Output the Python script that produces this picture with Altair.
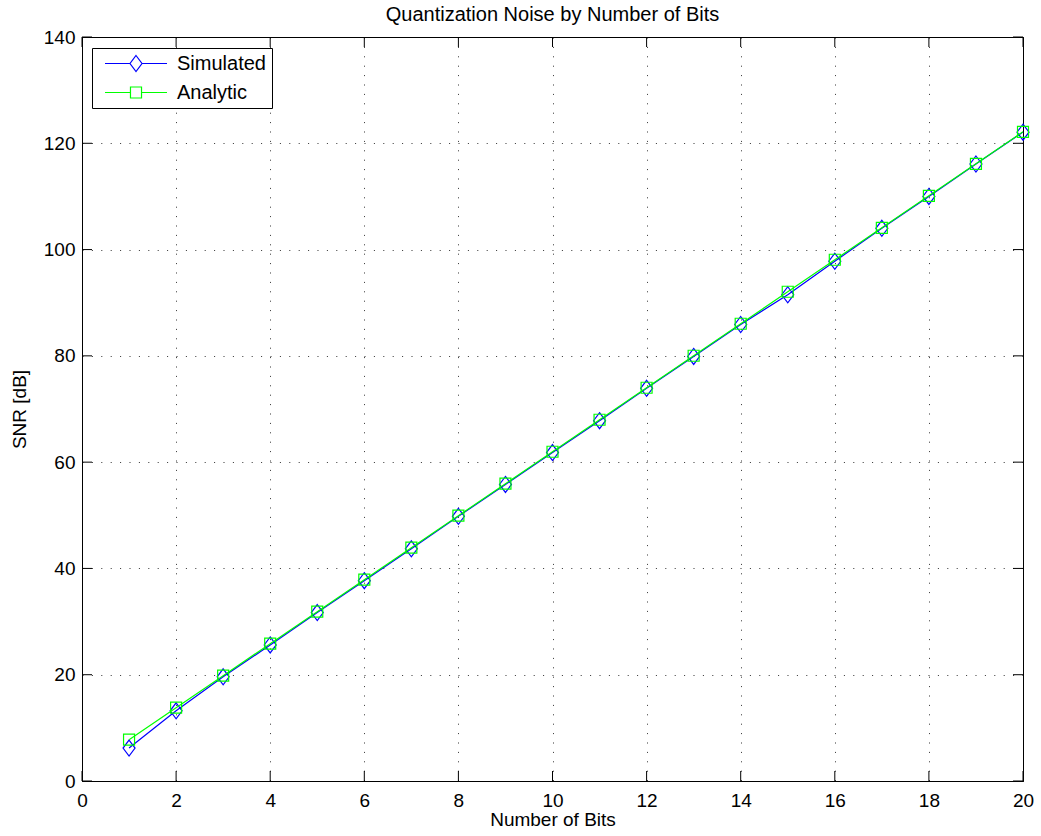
import altair as alt
import pandas as pd

# Quantization SNR per bit depth
bits = list(range(1, 21))
snr_simulated = [6.2, 13.2, 19.6, 25.6, 31.7, 37.7, 43.7, 49.8, 55.8, 61.8,
                 67.8, 73.9, 79.9, 85.9, 91.5, 97.8, 104.0, 110.0, 116.1, 122.1]
snr_analytic = [7.78, 13.80, 19.82, 25.84, 31.86, 37.88, 43.90, 49.92, 55.94, 61.96,
                67.98, 74.00, 80.02, 86.04, 92.06, 98.08, 104.10, 110.12, 116.14, 122.16]

series_names = ["Simulated", "Analytic"]
series_colors = ["#0000ff", "#00ff00"]
x_ticks = list(range(0, 21, 2))
y_ticks = list(range(0, 141, 20))

W, H = 941, 744
FONT = "Liberation Sans"

df = pd.DataFrame({
    "bits": bits * 2,
    "snr": snr_simulated + snr_analytic,
    "series": [series_names[0]] * len(bits) + [series_names[1]] * len(bits),
})

DIAMOND = "M0,-1L0.75,0L0,1L-0.75,0Z"
LEG_DIAMOND = "M-3.875,0L-0.75,0M0.75,0L3.875,0M0,-1L0.75,0L0,1L-0.75,0Z"
LEG_SQUARE = "M-3.875,0L-0.69,0M0.69,0L3.875,0M-0.69,-0.69L0.69,-0.69L0.69,0.69L-0.69,0.69Z"

xscale = alt.Scale(domain=[0, 20], nice=False, zero=False)
yscale = alt.Scale(domain=[0, 140], nice=False, zero=False)
cscale = alt.Scale(domain=series_names, range=series_colors)

legend = alt.Legend(
    orient="none", legendX=10, legendY=11, title=None,
    fillColor="white",
    symbolOffset=28.5, labelOffset=31,
    labelFont=FONT, labelFontSize=20, labelColor="black", labelLimit=300,
    symbolSize=256, symbolStrokeWidth=1.2, symbolFillColor="transparent",
    symbolType={"expr": f"datum.value == 'Simulated' ? '{LEG_DIAMOND}' : '{LEG_SQUARE}'"},
    symbolStrokeColor={"expr": f"datum.value == 'Simulated' ? '{series_colors[0]}' : '{series_colors[1]}'"},
)

x_axis = alt.Axis(values=x_ticks, title="Number of Bits", ticks=False, labelPadding=10,
                  labelFlush=False, grid=True, titlePadding=0)
y_axis = alt.Axis(values=y_ticks, title="SNR [dB]", ticks=False, labelPadding=7,
                  labelFlush=False, grid=True, titlePadding=14)

X = alt.X("bits:Q", scale=xscale, axis=x_axis)
Y = alt.Y("snr:Q", scale=yscale, axis=y_axis)

base = alt.Chart(df)
LINE_W = 1.2


def series_layers(name, color, shape, size, with_legend):
    sub = base.transform_filter(alt.datum.series == name)
    line = sub.mark_line(strokeWidth=LINE_W).encode(
        x=X, y=Y,
        color=alt.Color("series:N", scale=cscale, legend=legend if with_legend else None),
    )
    pts = sub.mark_point(shape=shape, size=size, filled=False, strokeWidth=LINE_W,
                         opacity=1, color=color).encode(x=X, y=Y)
    return [line, pts]


# inward tick marks on all four sides
xt = alt.Chart(pd.DataFrame({"bits": x_ticks}))
yt = alt.Chart(pd.DataFrame({"snr": y_ticks}))
tick_style = dict(color="black", strokeWidth=1)
ticks = [
    xt.mark_rule(**tick_style).encode(x=X, y=alt.value(H), y2=alt.value(H - 10)),
    xt.mark_rule(**tick_style).encode(x=X, y=alt.value(0), y2=alt.value(10)),
    yt.mark_rule(**tick_style).encode(y=Y, x=alt.value(0), x2=alt.value(10)),
    yt.mark_rule(**tick_style).encode(y=Y, x=alt.value(W), x2=alt.value(W - 10)),
]

layers = (series_layers("Simulated", series_colors[0], DIAMOND, 256, True)
          + series_layers("Analytic", series_colors[1], "square", 121, False)
          + ticks)

chart = alt.layer(*layers).properties(
    width=W, height=H,
    title=alt.Title("Quantization Noise by Number of Bits", font=FONT, fontSize=20,
                    fontWeight="normal", color="black", anchor="middle", offset=3),
    autosize=alt.AutoSizeParams(type="none"),
    padding={"left": 82, "top": 37, "right": 18, "bottom": 55},
).configure(background="white").configure_view(
    stroke="black", strokeWidth=1
).configure_axis(
    domainColor="black", domainWidth=1,
    gridColor="black", gridDash=[1, 8.4], gridWidth=1, gridOpacity=0.8,
    labelFont=FONT, labelFontSize=19, labelColor="black",
    titleFont=FONT, titleFontSize=19, titleFontWeight="normal", titleColor="black",
).configure_legend(
    strokeColor="black", strokeWidth=1, cornerRadius=0, padding=5.5, rowPadding=8,
)

chart.save("out.html", embed_options={"renderer": "svg", "actions": False})
